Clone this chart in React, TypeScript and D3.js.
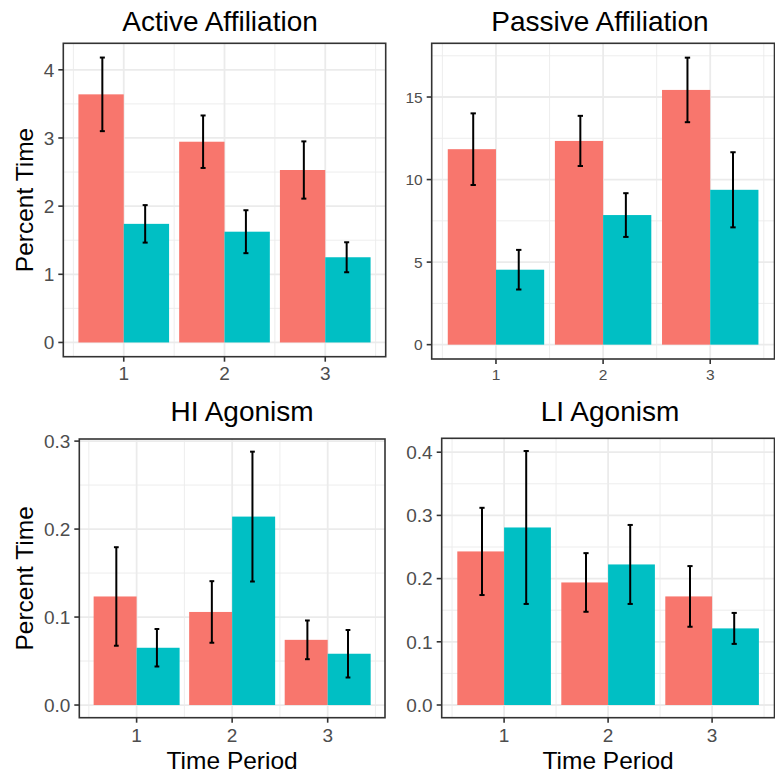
import { useEffect, useRef } from 'react'
import * as d3 from 'd3'

// time periods on the x axis, two groups per period
const periods = [1, 2, 3]
const groupColors = ['#F8766D', '#00BFC4']

// Active Affiliation
const activeMeanA = [3.64, 2.945, 2.53]
const activeSeA = [0.54, 0.385, 0.42]
const activeMeanB = [1.74, 1.625, 1.25]
const activeSeB = [0.275, 0.315, 0.22]
const activeTicks = [0, 1, 2, 3, 4]

// Passive Affiliation
const passiveMeanA = [11.84, 12.34, 15.43]
const passiveSeA = [2.17, 1.52, 1.955]
const passiveMeanB = [4.54, 7.85, 9.38]
const passiveSeB = [1.2, 1.325, 2.275]
const passiveTicks = [0, 5, 10, 15]

// HI Agonism
const hiMeanA = [0.1234, 0.1058, 0.0741]
const hiSeA = [0.056, 0.035, 0.022]
const hiMeanB = [0.0651, 0.2142, 0.0583]
const hiSeB = [0.0213, 0.0738, 0.027]
const hiTicks = [0, 0.1, 0.2, 0.3]

// LI Agonism
const liMeanA = [0.243, 0.1939, 0.1718]
const liSeA = [0.069, 0.0464, 0.048]
const liMeanB = [0.2809, 0.2224, 0.1212]
const liSeB = [0.121, 0.0625, 0.0245]
const liTicks = [0, 0.1, 0.2, 0.3, 0.4]

const FONT = '"Liberation Sans", Arial, Helvetica, sans-serif'

const panels = [
  {
    title: 'Active Affiliation', meanA: activeMeanA, seA: activeSeA, meanB: activeMeanB, seB: activeSeB,
    ticks: activeTicks, fmt: 'd', box: [63.3, 43.3, 385.7, 356.7], tickSize: 19, titleX: 220, titleY: 31,
    yTitle: true, xTitle: false, xLabelY: 380
  },
  {
    title: 'Passive Affiliation', meanA: passiveMeanA, seA: passiveSeA, meanB: passiveMeanB, seB: passiveSeB,
    ticks: passiveTicks, fmt: 'd', box: [431.7, 43.3, 774.5, 359], tickSize: 15.5, titleX: 600, titleY: 31,
    yTitle: false, xTitle: false, xLabelY: 380
  },
  {
    title: 'HI Agonism', meanA: hiMeanA, seA: hiSeA, meanB: hiMeanB, seB: hiSeB,
    ticks: hiTicks, fmt: '.1f', box: [79.3, 439, 385, 717.7], tickSize: 19, titleX: 242, titleY: 421,
    yTitle: true, xTitle: true, xLabelY: 741.7
  },
  {
    title: 'LI Agonism', meanA: liMeanA, seA: liSeA, meanB: liMeanB, seB: liSeB,
    ticks: liTicks, fmt: '.1f', box: [441.7, 438.3, 774.5, 717.7], tickSize: 19, titleX: 610, titleY: 421,
    yTitle: false, xTitle: true, xLabelY: 741.7
  }
]

export default function App() {
  const ref = useRef<SVGSVGElement>(null)

  useEffect(() => {
    if (!ref.current) return
    const svg = d3.select(ref.current)
    svg.selectAll('*').remove()

    svg.append('rect').attr('width', 775).attr('height', 775).attr('fill', 'white')

    panels.forEach(p => {
      const [l, t, r, b] = p.box
      const g = svg.append('g')

      const upper = [
        ...p.meanA.map((m, i) => m + p.seA[i]),
        ...p.meanB.map((m, i) => m + p.seB[i])
      ]
      const yMax = d3.max(upper) as number
      const pad = yMax * 0.05
      const y = d3.scaleLinear().domain([-pad, yMax + pad]).range([b, t])
      const x = d3.scaleLinear().domain([0.4, 3.6]).range([l, r])

      // grid
      const step = p.ticks[1] - p.ticks[0]
      const yMinor = [p.ticks[0] - step / 2, ...p.ticks.map(v => v + step / 2)]
        .filter(v => v > y.domain()[0] && v < y.domain()[1])
      const xMinor = [0.5, ...periods.map(v => v + 0.5)]

      g.selectAll('.ymin').data(yMinor).enter().append('line')
        .attr('x1', l).attr('x2', r).attr('y1', d => y(d)).attr('y2', d => y(d))
        .attr('stroke', '#EBEBEB').attr('stroke-width', 0.9)
      g.selectAll('.xmin').data(xMinor).enter().append('line')
        .attr('y1', t).attr('y2', b).attr('x1', d => x(d)).attr('x2', d => x(d))
        .attr('stroke', '#EBEBEB').attr('stroke-width', 0.9)
      g.selectAll('.ymaj').data(p.ticks).enter().append('line')
        .attr('x1', l).attr('x2', r).attr('y1', d => y(d)).attr('y2', d => y(d))
        .attr('stroke', '#EBEBEB').attr('stroke-width', 1.8)
      g.selectAll('.xmaj').data(periods).enter().append('line')
        .attr('y1', t).attr('y2', b).attr('x1', d => x(d)).attr('x2', d => x(d))
        .attr('stroke', '#EBEBEB').attr('stroke-width', 1.8)

      // bars
      const rows = periods.flatMap((per, i) => [
        { per, k: 0, m: p.meanA[i], s: p.seA[i] },
        { per, k: 1, m: p.meanB[i], s: p.seB[i] }
      ])
      g.selectAll('.bar').data(rows).enter().append('rect')
        .attr('x', d => x(d.per - 0.45 + d.k * 0.45))
        .attr('width', x(0.45) - x(0))
        .attr('y', d => y(d.m))
        .attr('height', d => y(0) - y(d.m))
        .attr('fill', d => groupColors[d.k])

      // error bars
      const ex = (d: any) => d.per + (d.k === 0 ? -0.2125 : 0.2125)
      const eb = g.selectAll('.err').data(rows).enter().append('g')
      eb.append('line')
        .attr('x1', d => x(ex(d))).attr('x2', d => x(ex(d)))
        .attr('y1', d => y(d.m - d.s)).attr('y2', d => y(d.m + d.s))
        .attr('stroke', 'black').attr('stroke-width', 2)
      ;[-1, 1].forEach(sign => {
        eb.append('line')
          .attr('x1', d => x(ex(d) - 0.025)).attr('x2', d => x(ex(d) + 0.025))
          .attr('y1', d => y(d.m + sign * d.s)).attr('y2', d => y(d.m + sign * d.s))
          .attr('stroke', 'black').attr('stroke-width', 2)
      })

      // border
      g.append('rect').attr('x', l).attr('y', t).attr('width', r - l).attr('height', b - t)
        .attr('fill', 'none').attr('stroke', '#333333').attr('stroke-width', 1.6)

      // y axis
      const fmt = d3.format(p.fmt)
      g.selectAll('.ytick').data(p.ticks).enter().append('line')
        .attr('x1', l - 5).attr('x2', l).attr('y1', d => y(d)).attr('y2', d => y(d))
        .attr('stroke', '#333333').attr('stroke-width', 1.6)
      g.selectAll('.ylab').data(p.ticks).enter().append('text')
        .attr('x', l - 9).attr('y', d => y(d)).attr('dy', '0.36em')
        .attr('text-anchor', 'end').attr('fill', '#4D4D4D')
        .style('font-family', FONT).style('font-size', `${p.tickSize}px`)
        .text(d => fmt(d))

      // x axis
      g.selectAll('.xtick').data(periods).enter().append('line')
        .attr('y1', b).attr('y2', b + 5).attr('x1', d => x(d)).attr('x2', d => x(d))
        .attr('stroke', '#333333').attr('stroke-width', 1.6)
      g.selectAll('.xlab').data(periods).enter().append('text')
        .attr('x', d => x(d)).attr('y', p.xLabelY)
        .attr('text-anchor', 'middle').attr('fill', '#4D4D4D')
        .style('font-family', FONT).style('font-size', `${p.tickSize}px`)
        .text(d => String(d))

      // titles
      g.append('text').attr('x', p.titleX).attr('y', p.titleY)
        .attr('text-anchor', 'middle').attr('fill', 'black')
        .style('font-family', FONT).style('font-size', '28px')
        .text(p.title)

      if (p.yTitle) {
        g.append('text')
          .attr('transform', `translate(33,${(t + b) / 2}) rotate(-90)`)
          .attr('text-anchor', 'middle').attr('fill', 'black')
          .style('font-family', FONT).style('font-size', '24.5px')
          .text('Percent Time')
      }
      if (p.xTitle) {
        g.append('text').attr('x', (l + r) / 2).attr('y', 769)
          .attr('text-anchor', 'middle').attr('fill', 'black')
          .style('font-family', FONT).style('font-size', '24.5px')
          .text('Time Period')
      }
    })
  }, [])

  return (
    <svg ref={ref} width={775} height={775}
      style={{ position: 'absolute', left: 0, top: 0, display: 'block' }} />
  )
}
